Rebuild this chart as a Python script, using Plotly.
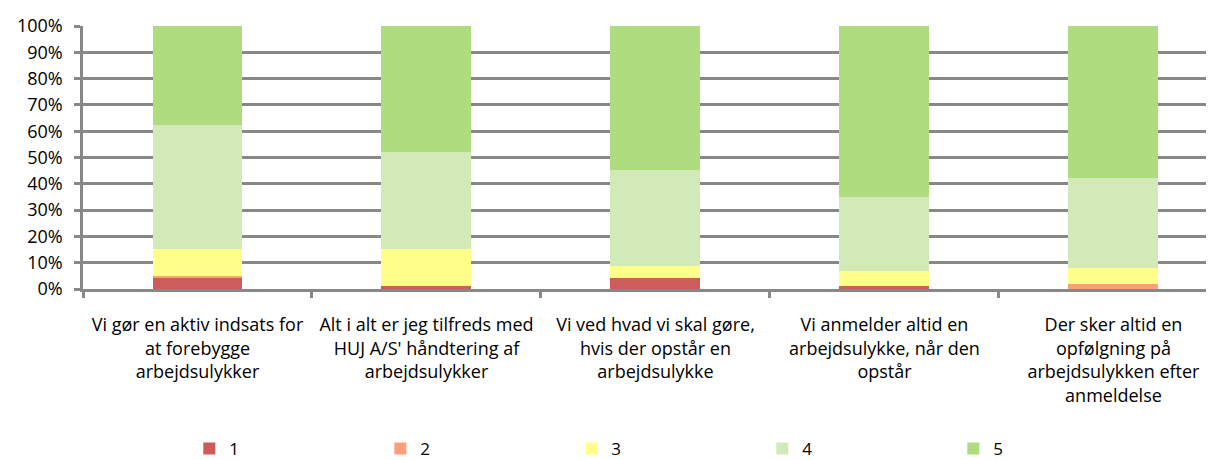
import plotly.graph_objects as go

categories = [
    "Vi gør en aktiv indsats for<br>at forebygge<br>arbejdsulykker",
    "Alt i alt er jeg tilfreds med<br>HUJ A/S' håndtering af<br>arbejdsulykker",
    "Vi ved hvad vi skal gøre,<br>hvis der opstår en<br>arbejdsulykke",
    "Vi anmelder altid en<br>arbejdsulykke, når den<br>opstår",
    "Der sker altid en<br>opfølgning på<br>arbejdsulykken efter<br>anmeldelse",
]
series_names = ["1", "2", "3", "4", "5"]
s1 = [4.3, 1.3, 4.3, 1.3, 0.0]
s2 = [0.8, 0.0, 0.0, 0.0, 1.9]
s3 = [10.0, 13.8, 4.6, 5.4, 6.2]
s4 = [47.3, 37.0, 36.3, 28.3, 34.2]
s5 = [37.6, 47.9, 54.8, 65.0, 57.7]
colors = ["#CD5C5C", "#FF9F7A", "#FFFF8A", "#D1EAB7", "#AEDC7E"]
tick_vals = [0, 10, 20, 30, 40, 50, 60, 70, 80, 90, 100]
tick_text = ["0%", "10%", "20%", "30%", "40%", "50%", "60%", "70%", "80%", "90%", "100%"]

FONT = "Open Sans"
FS = 18
fig = go.Figure()
for name, vals, col in zip(series_names, [s1, s2, s3, s4, s5], colors):
    fig.add_trace(go.Bar(x=categories, y=vals, name=name, marker=dict(color=col, line=dict(width=0)),
                         width=0.393))

fig.update_layout(
    barmode="stack",
    width=1206, height=452,
    margin=dict(l=75, r=0, t=18, b=171, autoexpand=False),
    paper_bgcolor="white", plot_bgcolor="white",
    font=dict(family=FONT, size=FS, color="black"),
    legend=dict(orientation="h", x=0.094, y=-0.608, xanchor="left", yanchor="middle",
                entrywidth=146, entrywidthmode="pixels", traceorder="normal",
                tracegroupgap=0, itemsizing="constant",
                font=dict(family=FONT, size=17, color="black")),
    xaxis=dict(range=[-0.5, 4.439], showline=True, linecolor="#888888", linewidth=2.5,
               ticks="outside", tickson="boundaries", ticklen=6, tickcolor="#888888", tickwidth=2.5,
               showgrid=False, automargin=False, ticklabelstandoff=18,
               tickfont=dict(family=FONT, size=FS, color="black")),
    yaxis=dict(range=[0, 100], tickmode="array", tickvals=tick_vals, ticktext=tick_text,
               showline=True, linecolor="#888888", linewidth=2.5, ticks="outside", ticklen=6,
               tickcolor="#888888", tickwidth=2.5, showgrid=True, gridcolor="#888888",
               gridwidth=2.5, zeroline=False, automargin=False, ticklabelstandoff=8,
               tickfont=dict(family=FONT, size=FS, color="black")),
)
fig.write_html("out.html")
